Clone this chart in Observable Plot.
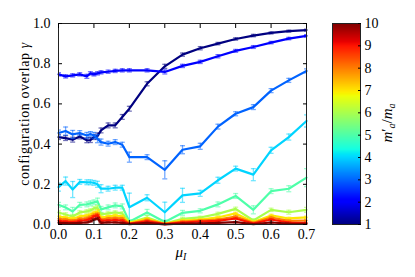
<!DOCTYPE html>
<html><head><meta charset="utf-8">
<script src="https://cdn.jsdelivr.net/npm/d3@7"></script>
<script src="https://cdn.jsdelivr.net/npm/@observablehq/plot@0.6"></script>
<style>
body{margin:0;background:#fff}
#wrap{position:relative;width:415px;height:277px;overflow:hidden}
#wrap svg{position:absolute;top:0}
#wrap svg, #wrap svg text{font-family:'Liberation Serif','DejaVu Serif',serif !important}
</style></head><body><div id="wrap"></div>
<script>
// x positions (mu_I)
const mu = [0, 0.02, 0.04, 0.06, 0.08, 0.09, 0.10, 0.11, 0.12, 0.14, 0.16, 0.18, 0.20, 0.25, 0.30, 0.35, 0.40, 0.45, 0.50, 0.55, 0.60, 0.65, 0.70];
// m'_a / m_a values of the series
const ratios = [1, 2, 3, 4, 5, 6, 7, 8, 9, 10];
const gamma1 = [0.435, 0.43, 0.422, 0.438, 0.419, 0.42, 0.435, 0.44, 0.468, 0.493, 0.493, 0.535, 0.576, 0.70, 0.787, 0.845, 0.877, 0.90, 0.923, 0.94, 0.953, 0.962, 0.967];
const gamma2 = [0.747, 0.737, 0.742, 0.747, 0.737, 0.752, 0.747, 0.752, 0.757, 0.76, 0.764, 0.767, 0.767, 0.767, 0.759, 0.789, 0.809, 0.837, 0.864, 0.883, 0.905, 0.925, 0.938];
const gamma3 = [0.455, 0.465, 0.448, 0.455, 0.443, 0.45, 0.443, 0.427, 0.41, 0.402, 0.41, 0.397, 0.335, 0.335, 0.272, 0.372, 0.389, 0.487, 0.551, 0.584, 0.666, 0.717, 0.764];
const gamma4 = [0.186, 0.216, 0.174, 0.212, 0.21, 0.21, 0.207, 0.2, 0.178, 0.178, 0.183, 0.183, 0.086, 0.133, 0.061, 0.145, 0.155, 0.22, 0.278, 0.248, 0.369, 0.435, 0.515];
const gamma5 = [0.098, 0.085, 0.065, 0.098, 0.1, 0.105, 0.11, 0.116, 0.075, 0.085, 0.095, 0.09, 0.014, 0.06, 0.012, 0.058, 0.068, 0.1, 0.142, 0.073, 0.166, 0.178, 0.233];
const gamma6 = [0.06, 0.05, 0.04, 0.06, 0.065, 0.07, 0.08, 0.085, 0.05, 0.055, 0.06, 0.055, 0.01, 0.035, 0.005, 0.028, 0.035, 0.053, 0.078, 0.02, 0.073, 0.061, 0.073];
const gamma7 = [0.04, 0.035, 0.03, 0.04, 0.045, 0.05, 0.06, 0.065, 0.035, 0.04, 0.045, 0.04, 0.008, 0.028, 0.004, 0.02, 0.025, 0.035, 0.055, 0.012, 0.045, 0.03, 0.035];
const gamma8 = [0.028, 0.025, 0.02, 0.028, 0.032, 0.038, 0.048, 0.052, 0.025, 0.03, 0.032, 0.03, 0.005, 0.022, 0.003, 0.015, 0.02, 0.025, 0.04, 0.008, 0.035, 0.018, 0.02];
const gamma9 = [0.018, 0.015, 0.012, 0.018, 0.022, 0.028, 0.04, 0.045, 0.018, 0.02, 0.022, 0.02, 0.003, 0.016, 0.002, 0.01, 0.015, 0.018, 0.03, 0.005, 0.025, 0.01, 0.008];
const gamma10 = [0.008, 0.007, 0.006, 0.008, 0.01, 0.015, 0.025, 0.03, 0.008, 0.01, 0.01, 0.008, 0.002, 0.008, 0.001, 0.005, 0.006, 0.008, 0.012, 0.002, 0.01, 0.004, 0.003];
// error bar half-lengths
const err1 = [0.012, 0.012, 0.012, 0.012, 0.012, 0.012, 0.012, 0.015, 0.012, 0.012, 0.012, 0.012, 0.012, 0.01, 0.01, 0.008, 0.008, 0.006, 0.006, 0.006, 0.005, 0.005, 0.005];
const err2 = [0.008, 0.008, 0.008, 0.008, 0.01, 0.008, 0.008, 0.008, 0.008, 0.008, 0.008, 0.008, 0.008, 0.008, 0.01, 0.008, 0.008, 0.008, 0.007, 0.007, 0.006, 0.006, 0.006];
const err3 = [0.015, 0.02, 0.02, 0.012, 0.015, 0.012, 0.015, 0.02, 0.015, 0.012, 0.012, 0.012, 0.025, 0.012, 0.045, 0.02, 0.015, 0.012, 0.01, 0.012, 0.01, 0.01, 0.01];
const err4 = [0.02, 0.02, 0.04, 0.012, 0.012, 0.012, 0.012, 0.015, 0.02, 0.012, 0.012, 0.012, 0.07, 0.015, 0.05, 0.035, 0.015, 0.015, 0.012, 0.03, 0.015, 0.015, 0.03];
const err5 = [0.012, 0.012, 0.02, 0.012, 0.012, 0.012, 0.012, 0.015, 0.015, 0.012, 0.012, 0.012, 0.01, 0.015, 0.01, 0.012, 0.01, 0.012, 0.012, 0.02, 0.012, 0.015, 0.045];
const err6 = [0.008, 0.008, 0.01, 0.008, 0.008, 0.008, 0.008, 0.01, 0.008, 0.008, 0.008, 0.008, 0.006, 0.01, 0.005, 0.008, 0.006, 0.008, 0.008, 0.008, 0.008, 0.01, 0.012];
const err7 = [0.006, 0.006, 0.006, 0.006, 0.006, 0.006, 0.006, 0.008, 0.006, 0.006, 0.006, 0.006, 0.004, 0.006, 0.004, 0.005, 0.005, 0.006, 0.006, 0.005, 0.006, 0.006, 0.006];
const err8 = [0.005, 0.005, 0.005, 0.005, 0.005, 0.005, 0.005, 0.006, 0.005, 0.005, 0.005, 0.005, 0.003, 0.005, 0.003, 0.004, 0.004, 0.005, 0.005, 0.004, 0.005, 0.005, 0.005];
const err9 = [0.004, 0.004, 0.004, 0.004, 0.004, 0.004, 0.005, 0.006, 0.004, 0.004, 0.004, 0.004, 0.002, 0.004, 0.002, 0.003, 0.003, 0.004, 0.004, 0.003, 0.004, 0.003, 0.003];
const err10 = [0.003, 0.003, 0.003, 0.003, 0.003, 0.003, 0.004, 0.005, 0.003, 0.003, 0.003, 0.003, 0.002, 0.003, 0.001, 0.002, 0.002, 0.003, 0.003, 0.002, 0.003, 0.002, 0.002];
const xTicks = [0, 0.1, 0.2, 0.3, 0.4, 0.5, 0.6, 0.7];
const yTicks = [0, 0.2, 0.4, 0.6, 0.8, 1.0];
const cbTicks = [1, 2, 3, 4, 5, 6, 7, 8, 9, 10];

const gammas = [gamma1, gamma2, gamma3, gamma4, gamma5, gamma6, gamma7, gamma8, gamma9, gamma10];
const errs = [err1, err2, err3, err4, err5, err6, err7, err8, err9, err10];

// matplotlib "jet" colormap
const jetSeg = {
  r: [[0, 0], [0.35, 0], [0.66, 1], [0.89, 1], [1, 0.5]],
  g: [[0, 0], [0.125, 0], [0.375, 1], [0.64, 1], [0.91, 0], [1, 0]],
  b: [[0, 0.5], [0.11, 1], [0.34, 1], [0.65, 0], [1, 0]]
};
function seg(pts, t) {
  t = Math.max(0, Math.min(1, t));
  for (let i = 1; i < pts.length; i++) {
    if (t <= pts[i][0]) {
      const [x0, y0] = pts[i - 1], [x1, y1] = pts[i];
      return y0 + (y1 - y0) * (t - x0) / (x1 - x0);
    }
  }
  return pts[pts.length - 1][1];
}
function jet(t) {
  return d3.rgb(255 * seg(jetSeg.r, t), 255 * seg(jetSeg.g, t), 255 * seg(jetSeg.b, t)).formatHex();
}

const rows = [];
ratios.forEach((m, k) => mu.forEach((x, i) => rows.push({m, mu: x, g: gammas[k][i], e: errs[k][i]})));

const hcap = {draw(ctx, size) { const w = Math.sqrt(size / Math.PI); ctx.moveTo(-w, 0); ctx.lineTo(w, 0); }};
const font = "'Liberation Serif', 'DejaVu Serif', serif";
const colorOpt = {type: "linear", domain: [1, 10], interpolate: jet};

const seriesMarks = ratios.flatMap(m => {
  const d = rows.filter(r => r.m === m);
  const eb = {stroke: "m", strokeWidth: 1.3, strokeOpacity: 0.55, clip: true};
  return [
    Plot.ruleX(d, {x: "mu", y1: r => r.g - r.e, y2: r => r.g + r.e, ...eb}),
    Plot.dot(d, {x: "mu", y: r => r.g - r.e, symbol: hcap, r: 2.5, fill: "none", ...eb}),
    Plot.dot(d, {x: "mu", y: r => r.g + r.e, symbol: hcap, r: 2.5, fill: "none", ...eb}),
    Plot.line(d, {x: "mu", y: "g", stroke: "m", strokeWidth: 2.2})
  ];
});

const main = Plot.plot({
  width: 415, height: 277,
  marginLeft: 58, marginRight: 109, marginTop: 23, marginBottom: 53,
  style: {fontFamily: font, fontSize: "14px", background: "transparent", color: "#000"},
  x: {domain: [0, 0.7]},
  y: {domain: [0, 1]},
  color: colorOpt,
  marks: [
    ...seriesMarks,
    Plot.frame({stroke: "#222"}),
    Plot.axisX({ticks: xTicks, tickFormat: d3.format(".1f"), tickSize: -4, tickPadding: 9, label: null, fontSize: 14}),
    Plot.axisX({anchor: "top", ticks: xTicks, tickFormat: () => "", tickSize: -4, label: null}),
    Plot.axisY({ticks: yTicks, tickFormat: d3.format(".1f"), tickSize: -4, tickPadding: 12, label: null, fontSize: 14}),
    Plot.axisY({anchor: "right", ticks: yTicks, tickFormat: () => "", tickSize: -4, label: null})
  ]
});

// colour bar
const barMark = Plot.raster
  ? Plot.raster({fill: (x, y) => y, x1: 0, x2: 1, y1: 1, y2: 10, width: 1, height: 256, imageRendering: "auto"})
  : Plot.ruleY(d3.range(0, 91).map(i => 1 + 9 * i / 90), {y: d => d, stroke: d => d, strokeWidth: 4, clip: true});
const cb = Plot.plot({
  width: 95, height: 277,
  marginLeft: 12, marginRight: 55, marginTop: 23, marginBottom: 53,
  style: {fontFamily: font, fontSize: "14px", background: "transparent", color: "#000"},
  x: {domain: [0, 1], axis: null},
  y: {domain: [1, 10]},
  color: colorOpt,
  marks: [
    barMark,
    Plot.frame({stroke: "#222"}),
    Plot.axisY({anchor: "right", ticks: cbTicks, tickSize: -3, tickPadding: 7, label: null, fontSize: 14})
  ]
});

const wrap = document.getElementById("wrap");
main.style.left = "0px";
cb.style.left = "320px";
wrap.appendChild(main);
wrap.appendChild(cb);

// axis titles
const ms = d3.select(main);
const xl = ms.append("text").attr("x", 181).attr("y", 257).attr("text-anchor", "middle")
  .style("font-size", "15px");
xl.append("tspan").attr("font-style", "italic").text("μ");
xl.append("tspan").attr("font-style", "italic").attr("font-size", "10px").attr("dy", 3).text("I");

const yl = ms.append("text").attr("transform", "translate(29,114) rotate(-90)").attr("text-anchor", "middle")
  .style("font-size", "14px").style("letter-spacing", "0.6px");
yl.append("tspan").text("configuration overlap ");
yl.append("tspan").attr("font-style", "italic").text("γ");

const cs = d3.select(cb);
const cl = cs.append("text").attr("transform", "translate(72,123) rotate(-90)").attr("text-anchor", "middle")
  .style("font-size", "15px");
cl.append("tspan").attr("font-style", "italic").text("m");
cl.append("tspan").text("′");
cl.append("tspan").attr("font-style", "italic").attr("font-size", "10px").attr("dy", 3).text("a");
cl.append("tspan").attr("dy", -3).text("/");
cl.append("tspan").attr("font-style", "italic").text("m");
cl.append("tspan").attr("font-style", "italic").attr("font-size", "10px").attr("dy", 3).text("a");
</script></body></html>
